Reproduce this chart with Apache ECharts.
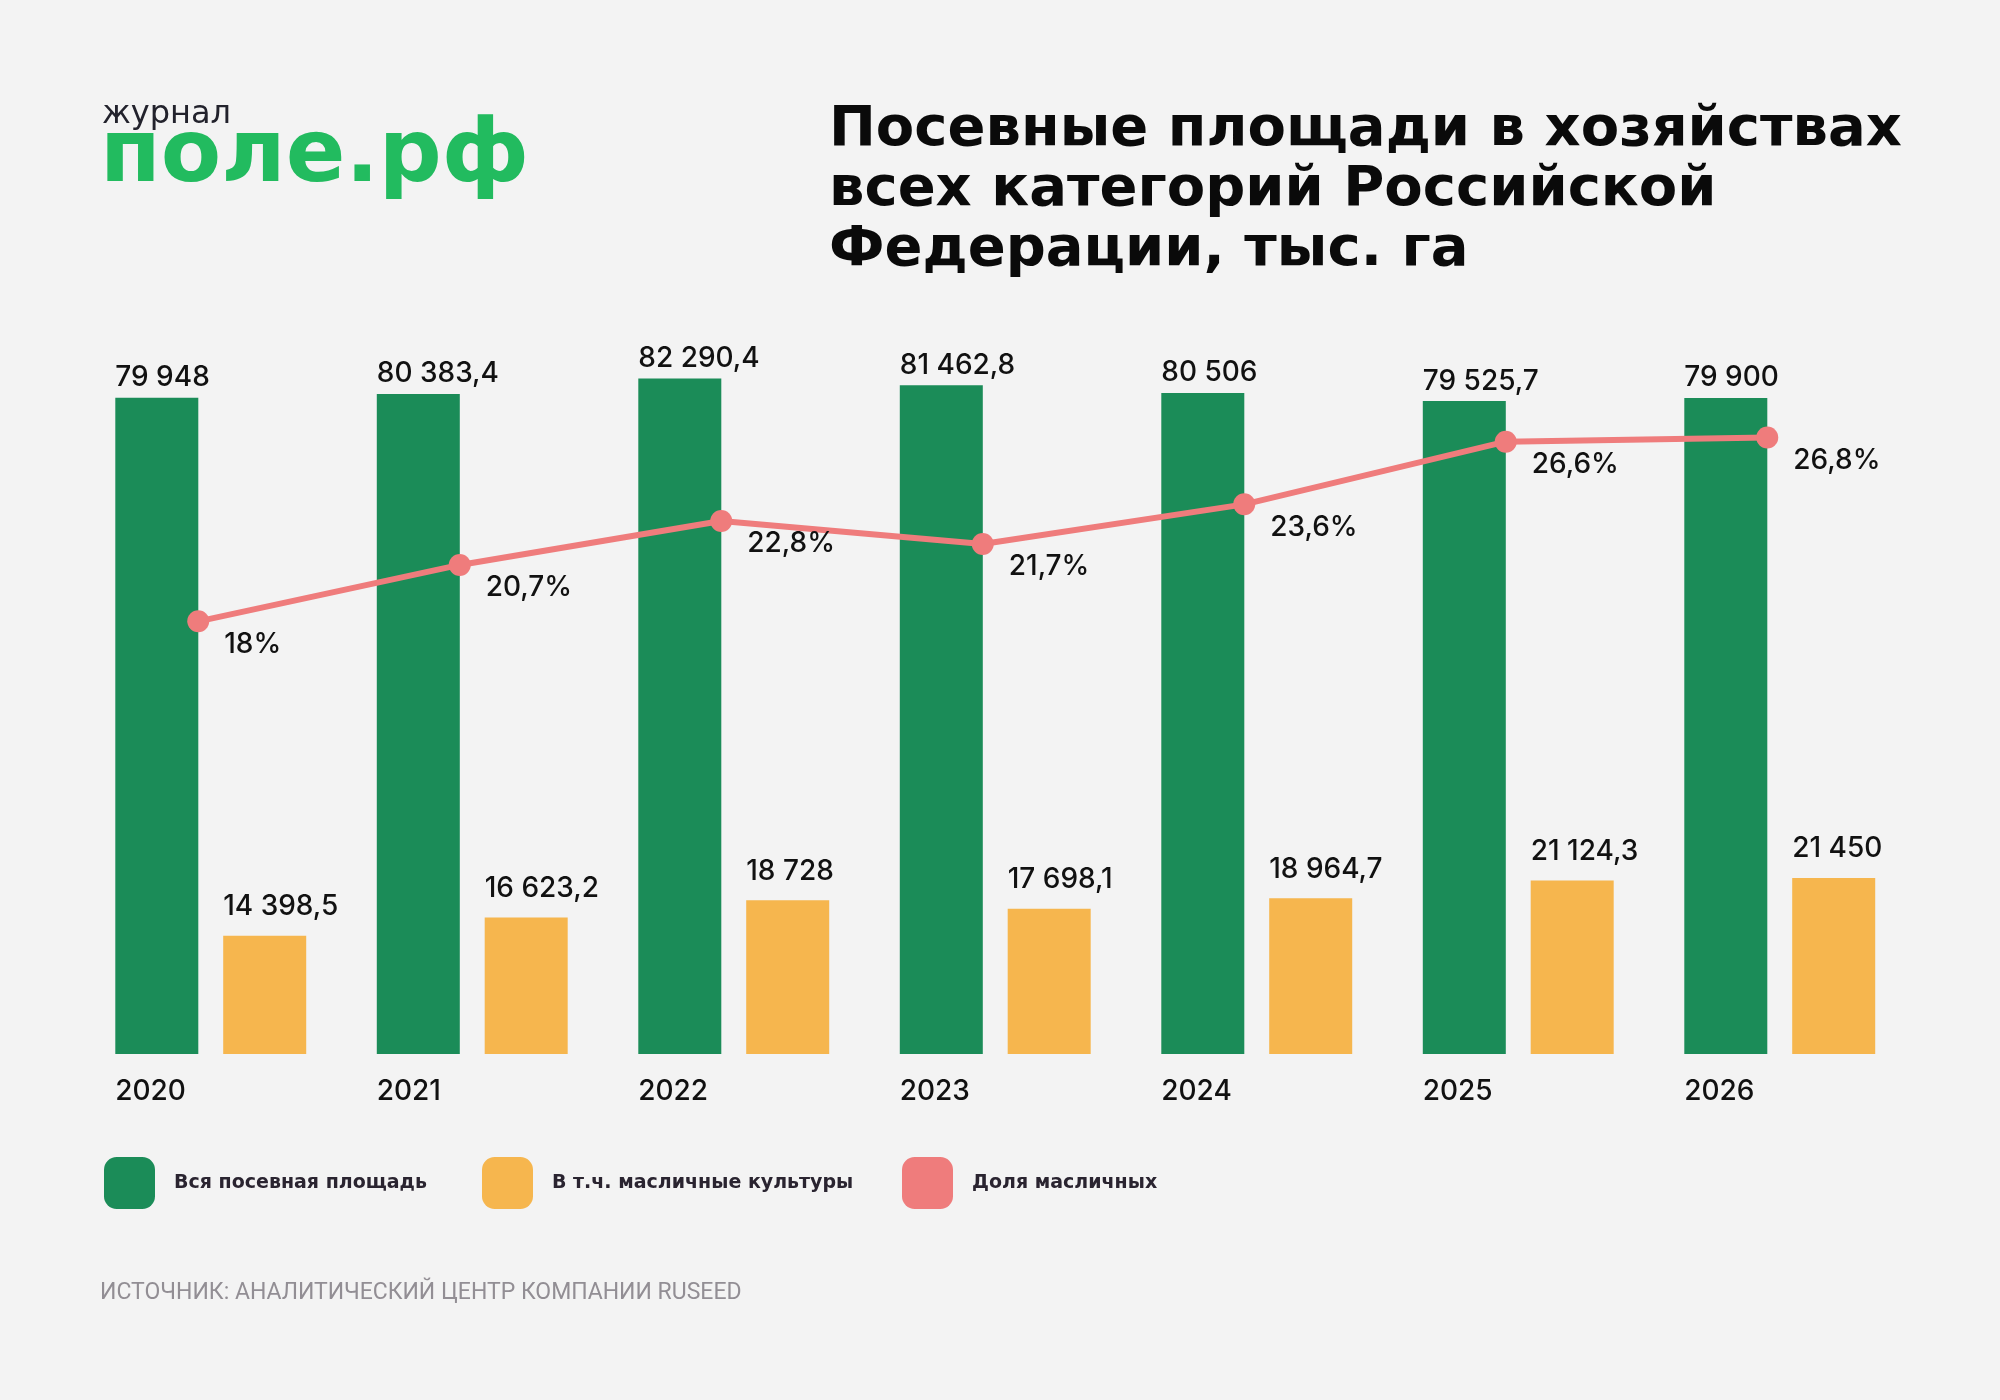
<!DOCTYPE html>
<html>
<head>
<meta charset="utf-8">
<script src="https://cdn.jsdelivr.net/npm/echarts@6/dist/echarts.min.js"></script>
<style>
html, body { margin: 0; padding: 0; background: #f3f3f3; }
#chart { width: 2000px; height: 1400px; }
</style>
</head>
<body>
<div id="chart"></div>
<script>
// годы
var years = ["2020", "2021", "2022", "2023", "2024", "2025", "2026"];
// вся посевная площадь, тыс. га
var totalArea = [79948, 80383.4, 82290.4, 81462.8, 80506, 79525.7, 79900];
// в т.ч. масличные культуры, тыс. га
var oilArea = [14398.5, 16623.2, 18728, 17698.1, 18964.7, 21124.3, 21450];
// доля масличных, %
var oilShare = [18, 20.7, 22.8, 21.7, 23.6, 26.6, 26.8];

var seriesNames = ["Вся посевная площадь", "В т.ч. масличные культуры", "Доля масличных"];
var colors = ["#1b8c58", "#f6b64e", "#ef7c7c"];

var numFont = "Inter";

function fmtNum(v) {
	var parts = String(v).split(".");
	var intPart = parts[0].replace(/\B(?=(\d{3})+(?!\d))/g, " ");
	return parts.length > 1 ? intPart + "," + parts[1] : intPart;
}

var myChart = echarts.init(document.getElementById("chart"));

var legendBase = function (name, left) {
	return {
		data : [ name ],
		left : left,
		top : 1157,
		padding : 0,
		itemWidth : 51,
		itemHeight : 52,
		icon : "roundRect",
		selectedMode : false,
		textStyle : {
			fontFamily : "DejaVu Sans",
			fontSize : 19,
			fontWeight : 600,
			color : "#2a2430",
			padding : [ 0, 0, 0, 14 ]
		}
	};
};

var option = {
	backgroundColor : "#f3f3f3",
	animation : false,
	color : colors,
	title : [ {
		text : "Посевные площади в хозяйствах\nвсех категорий Российской\nФедерации, тыс. га",
		left : 829,
		top : 100,
		padding : 0,
		textStyle : {
			fontFamily : "DejaVu Sans",
			fontSize : 56,
			lineHeight : 60,
			fontWeight : "bold",
			color : "#0a0a0a"
		}
	}, {
		text : "журнал",
		left : 102,
		top : 99,
		padding : 0,
		textStyle : {
			fontFamily : "DejaVu Sans",
			fontSize : 32,
			fontWeight : "normal",
			color : "#22222c"
		}
	}, {
		text : "поле.рф",
		left : 100,
		top : 114,
		padding : 0,
		textStyle : {
			fontFamily : "DejaVu Sans",
			fontSize : 88,
			fontWeight : "bold",
			color : "#22bb5f"
		}
	}, {
		text : "ИСТОЧНИК: АНАЛИТИЧЕСКИЙ ЦЕНТР КОМПАНИИ RUSEED",
		left : 100,
		top : 1282,
		padding : 0,
		textStyle : {
			fontFamily : "Roboto",
			fontSize : 23,
			fontWeight : "normal",
			color : "#928e94"
		}
	} ],
	legend : [ legendBase(seriesNames[0], 104), legendBase(seriesNames[1], 482),
			legendBase(seriesNames[2], 902) ],
	grid : [ {
		left : 80,
		right : 89.5,
		top : 233,
		bottom : 346,
		outerBoundsMode : "none"
	}, {
		left : 67.5,
		right : 102,
		top : 233,
		bottom : 346,
		outerBoundsMode : "none"
	}, {
		left : -15.5,
		right : 185,
		top : 233,
		bottom : 346,
		outerBoundsMode : "none"
	} ],
	xAxis : [ {
		type : "category",
		gridIndex : 0,
		data : years,
		show : false
	}, {
		type : "category",
		gridIndex : 1,
		data : years,
		show : false
	}, {
		type : "category",
		gridIndex : 2,
		data : years,
		axisLine : { show : false },
		axisTick : { show : false },
		axisLabel : {
			align : "left",
			margin : 24,
			fontFamily : numFont,
			fontSize : 28,
			fontWeight : 500,
			color : "#111111"
		}
	} ],
	yAxis : [ {
		type : "value",
		gridIndex : 0,
		min : 0,
		max : 100000,
		show : false,
		splitLine : { show : false }
	}, {
		type : "value",
		gridIndex : 1,
		min : -2.714,
		max : 36.59,
		show : false,
		splitLine : { show : false }
	}, {
		type : "value",
		gridIndex : 2,
		show : false,
		splitLine : { show : false }
	} ],
	series : [ {
		name : seriesNames[0],
		type : "bar",
		xAxisIndex : 0,
		yAxisIndex : 0,
		data : totalArea,
		barWidth : 83,
		barGap : "30%",
		itemStyle : { color : colors[0] },
		label : {
			show : true,
			position : [ 0, -6 ],
			align : "left",
			verticalAlign : "bottom",
			fontFamily : numFont,
			fontSize : 28,
			fontWeight : 500,
			color : "#111111",
			formatter : function (p) {
				return fmtNum(p.value);
			}
		}
	}, {
		name : seriesNames[1],
		type : "bar",
		xAxisIndex : 0,
		yAxisIndex : 0,
		data : oilArea,
		barWidth : 83,
		itemStyle : { color : colors[1] },
		label : {
			show : true,
			position : [ 0, -15 ],
			align : "left",
			verticalAlign : "bottom",
			fontFamily : numFont,
			fontSize : 28,
			fontWeight : 500,
			color : "#111111",
			formatter : function (p) {
				return fmtNum(p.value);
			}
		}
	}, {
		name : seriesNames[2],
		type : "line",
		xAxisIndex : 1,
		yAxisIndex : 1,
		data : oilShare,
		symbol : "circle",
		symbolSize : 22,
		lineStyle : { color : colors[2], width : 6 },
		itemStyle : { color : colors[2] },
		label : {
			show : true,
			position : [ 37, 20 ],
			align : "left",
			verticalAlign : "top",
			fontFamily : numFont,
			fontSize : 28,
			fontWeight : 500,
			color : "#111111",
			formatter : function (p) {
				return fmtNum(p.value) + "%";
			}
		}
	} ]
};

myChart.setOption(option);
</script>
</body>
</html>
